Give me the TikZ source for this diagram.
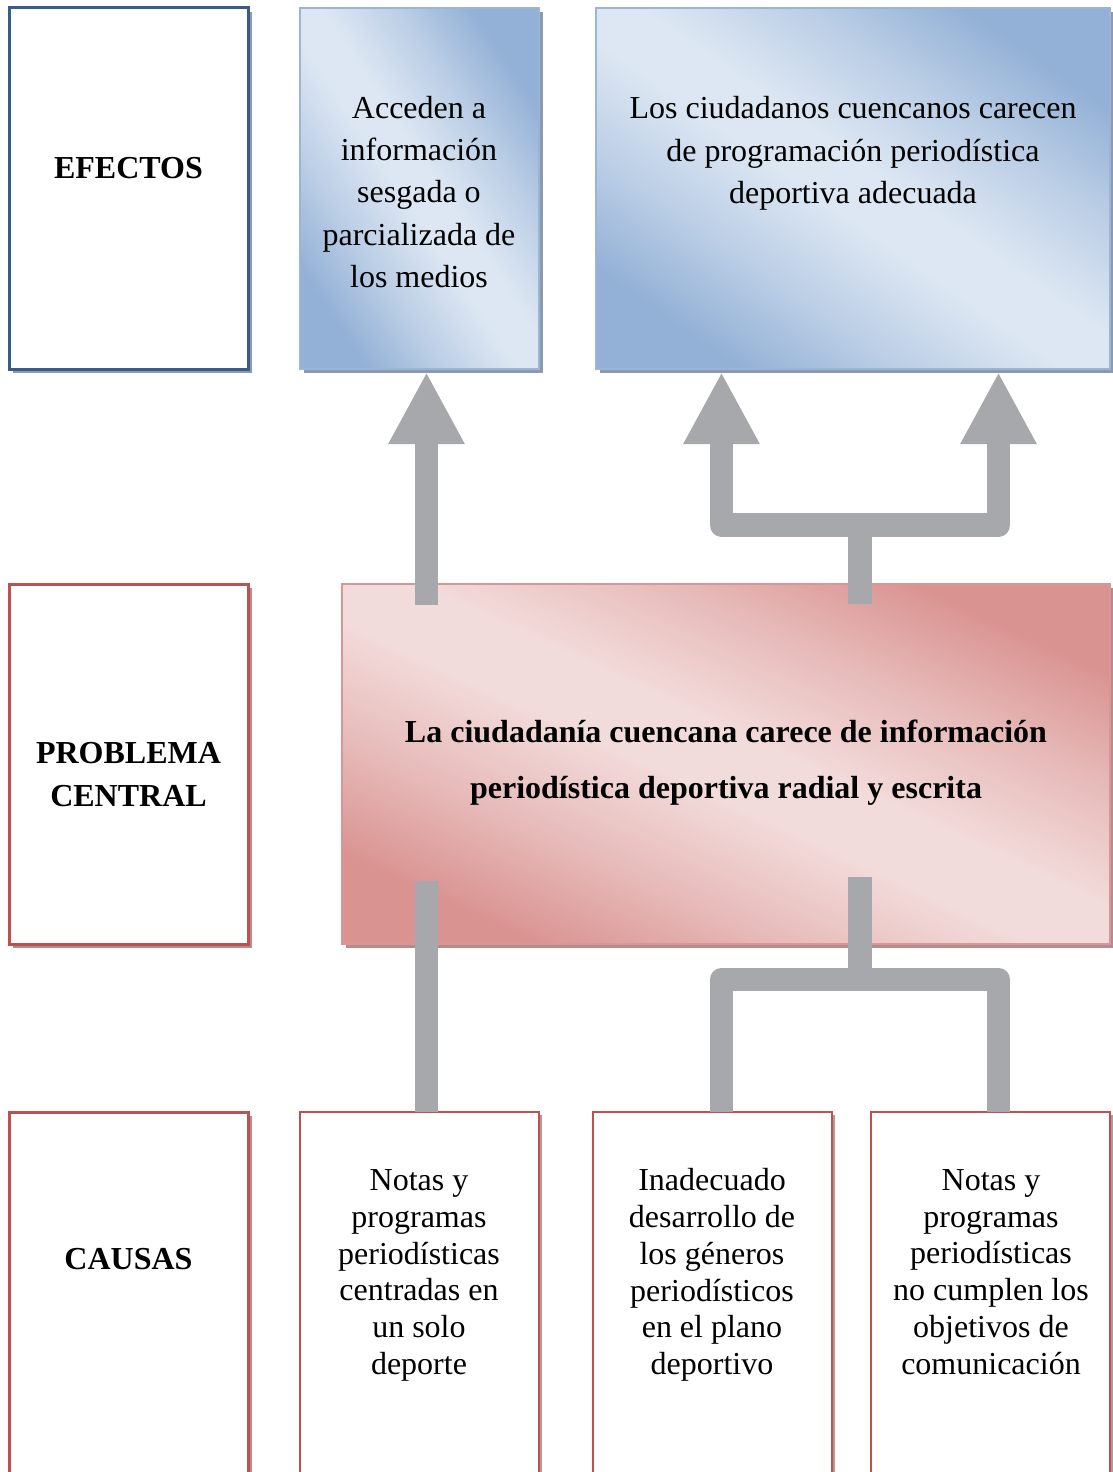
\documentclass[tikz,border=0pt]{standalone}
\usepackage{fontspec}
\setmainfont{Liberation Serif}
\usetikzlibrary{shadows,arrows.meta,calc}
\definecolor{bborder}{HTML}{385D8A}
\definecolor{blight}{HTML}{DDE7F3}
\definecolor{bdark}{HTML}{93B1D6}
\definecolor{bedge}{HTML}{9BB5D8}
\definecolor{bshadow}{HTML}{8D9AAE}
\definecolor{rborder}{HTML}{C0504D}
\definecolor{rlight}{HTML}{F2DCDB}
\definecolor{rdark}{HTML}{D99391}
\definecolor{redge}{HTML}{D99694}
\definecolor{rshadow}{HTML}{B38C8E}
\definecolor{cshadow}{HTML}{B09A9A}
\definecolor{agray}{HTML}{A7A8AB}
\colorlet{bmid}{bdark!45!blight}
\colorlet{rmid}{rdark!45!rlight}
\pgfdeclareverticalshading{bluegradshade}{100bp}{color(0bp)=(bdark); color(25bp)=(bdark); color(36bp)=(bmid); color(47bp)=(blight); color(53bp)=(blight); color(64bp)=(bmid); color(75bp)=(bdark); color(100bp)=(bdark)}
\pgfdeclareverticalshading{redgradshade}{100bp}{color(0bp)=(rdark); color(25bp)=(rdark); color(36bp)=(rmid); color(47bp)=(rlight); color(53bp)=(rlight); color(64bp)=(rmid); color(75bp)=(rdark); color(100bp)=(rdark)}
\begin{document}
\begin{tikzpicture}[x=1pt,y=-1pt,
  box/.style={inner sep=0pt, outer sep=0pt},
  bluelabel/.style={box, draw=bborder, line width=3pt, fill=white,
    drop shadow={shadow xshift=4pt, shadow yshift=-4pt, fill=bshadow, opacity=1}},
  redlabel/.style={box, draw=rborder, line width=3pt, fill=white,
    drop shadow={shadow xshift=4pt, shadow yshift=-4pt, fill=rshadow, opacity=1}},
  causebox/.style={box, draw=rborder, line width=2.8pt, fill=white,
    drop shadow={shadow xshift=3pt, shadow yshift=-3pt, fill=cshadow, opacity=1}},
  bluegrad/.style={box, draw=bedge, line width=1.5pt,
    shading=bluegradshade, shading angle=#1,
    drop shadow={shadow xshift=4pt, shadow yshift=-4pt, fill=bshadow, opacity=1}},
  redgrad/.style={box, draw=redge, line width=1.5pt,
    shading=redgradshade, shading angle=#1,
    drop shadow={shadow xshift=4pt, shadow yshift=-4pt, fill=rshadow, opacity=1}},
  labeltext/.style={align=center, inner sep=0pt, font=\fontsize{32}{43}\selectfont\bfseries},
  efftext/.style={align=center, inner sep=0pt, font=\fontsize{32}{42.3}\selectfont},
  maintext/.style={align=center, inner sep=0pt, font=\fontsize{32}{56}\selectfont\bfseries},
  causetext/.style={align=center, inner sep=0pt, font=\fontsize{32}{36.8}\selectfont},
  fat/.style={draw=agray, line width=23.5pt, line cap=butt},
  bigtip/.style={-{Triangle[length=72pt,width=71pt]}}
]
\useasboundingbox (0,0) rectangle (1112,1472);

% boxes
\node[bluelabel, minimum width=239pt, minimum height=361pt] (lab1) at (128.5,188.5) {};
\node[bluegrad=-56.5, minimum width=239pt, minimum height=361pt] (e1) at (419.5,188.5) {};
\node[bluegrad=-35, minimum width=514pt, minimum height=361pt] (e2) at (853,188.5) {};
\node[redlabel, minimum width=239pt, minimum height=360pt] (lab2) at (128.5,764) {};
\node[redgrad=-25, minimum width=768pt, minimum height=360pt] (prob) at (726,764) {};
\node[redlabel, minimum width=239pt, minimum height=372pt] (lab3) at (128.5,1298) {};
\node[causebox, minimum width=239pt, minimum height=372pt] (c1) at (419.5,1298) {};
\node[causebox, minimum width=239pt, minimum height=372pt] (c2) at (712.5,1298) {};
\node[causebox, minimum width=239pt, minimum height=372pt] (c3) at (990.5,1298) {};

% texts
\node[labeltext] (tlab1) at (128.5,168) {EFECTOS};
\node[efftext] (te1) at (419,192) {Acceden a\\información\\sesgada o\\parcializada de\\los medios};
\node[efftext] (te2) at (853,153.5) {Los ciudadanos cuencanos carecen\\de programación periodística\\deportiva adecuada};
\node[labeltext] (tlab2) at (128.5,774.5) {PROBLEMA\\CENTRAL};
\node[maintext] (tprob) at (726,762.5) {La ciudadanía cuencana carece de información\\periodística deportiva radial y escrita};
\node[labeltext] (tlab3) at (128.5,1259) {CAUSAS};
\node[causetext] (tc1) at (419,1275.5) {Notas y\\programas\\periodísticas\\centradas en\\un solo\\deporte};
\node[causetext] (tc2) at (712,1275) {Inadecuado\\desarrollo de\\los géneros\\periodísticos\\en el plano\\deportivo};
\node[causetext] (tc3) at (991,1272) {Notas y\\programas\\periodísticas\\no cumplen los\\objetivos de\\comunicación};

% columns for connectors
\coordinate (cA) at (426.5,0);
\coordinate (cL) at (721.5,0);
\coordinate (cM) at (860,0);
\coordinate (cR) at (998.5,0);

% effects arrows
\draw[fat,bigtip] ($(cA |- prob.north)+(0,21)$) -- ($(cA |- e1.south)+(0,3)$);
\draw[fat,bigtip,line join=round] ($(cM |- prob.north)+(0,20)$) -- ($(cM |- prob.north)+(0,-59)$) -| ($(cL |- e2.south)+(0,3)$);
\draw[fat,bigtip,line join=round] ($(cM |- prob.north)+(0,20)$) -- ($(cM |- prob.north)+(0,-59)$) -| ($(cR |- e2.south)+(0,3)$);

% causes connectors
\draw[fat] (cA |- c1.north) -- ($(cA |- prob.south)+(0,-63)$);
\draw[fat,line join=round] (cL |- c2.north) |- ($(cM |- prob.south)+(0,35.5)$) -| (cR |- c3.north);
\draw[fat] ($(cM |- prob.south)+(0,35.5)$) -- ($(cM |- prob.south)+(0,-67)$);
\end{tikzpicture}
\end{document}
